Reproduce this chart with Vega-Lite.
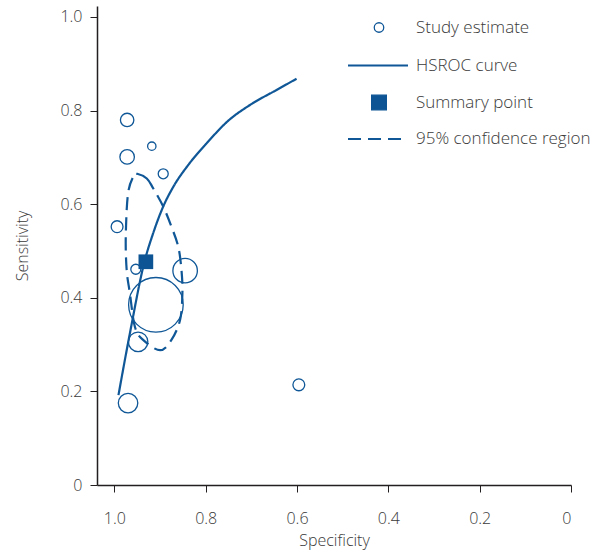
{
  "$schema": "https://vega.github.io/schema/vega-lite/v6.json",
  "width": 474,
  "height": 479,
  "autosize": {"type": "none"},
  "padding": {"left": 97, "top": 6, "right": 44, "bottom": 69},
  "background": "white",
  "config": {
    "view": {"stroke": null},
    "font": "Open Sans",
    "axis": {
      "grid": false,
      "domainColor": "#231f20",
      "domainWidth": 1.5,
      "tickColor": "#231f20",
      "tickWidth": 1,
      "tickSize": 7,
      "labelFont": "Open Sans",
      "labelFontSize": 16,
      "labelFontWeight": 300,
      "labelColor": "#3a3a3a",
      "titleFont": "Open Sans",
      "titleFontSize": 16,
      "titleFontWeight": 300,
      "titleColor": "#3a3a3a"
    },
    "legend": {
      "title": null,
      "orient": "none",
      "padding": 0,
      "labelFont": "Open Sans",
      "labelFontSize": 17,
      "labelFontWeight": 300,
      "labelColor": "#3a3a3a",
      "labelLimit": 400
    }
  },
  "datasets": {
    "studies": [
      {"spec": 0.972, "sens": 0.780, "n": 18, "series": "Study estimate"},
      {"spec": 0.972, "sens": 0.701, "n": 21, "series": "Study estimate"},
      {"spec": 0.918, "sens": 0.724, "n": 7, "series": "Study estimate"},
      {"spec": 0.893, "sens": 0.665, "n": 10, "series": "Study estimate"},
      {"spec": 0.994, "sens": 0.552, "n": 14, "series": "Study estimate"},
      {"spec": 0.953, "sens": 0.461, "n": 10, "series": "Study estimate"},
      {"spec": 0.845, "sens": 0.458, "n": 60, "series": "Study estimate"},
      {"spec": 0.909, "sens": 0.385, "n": 298, "series": "Study estimate"},
      {"spec": 0.948, "sens": 0.306, "n": 38, "series": "Study estimate"},
      {"spec": 0.970, "sens": 0.175, "n": 38, "series": "Study estimate"},
      {"spec": 0.596, "sens": 0.214, "n": 14, "series": "Study estimate"}
    ],
    "summary": [
      {"spec": 0.931, "sens": 0.477, "series": "Summary point"}
    ],
    "hsroc": [
      {"i": 1, "spec": 0.991, "sens": 0.192, "series": "HSROC curve"},
      {"i": 2, "spec": 0.966, "sens": 0.324, "series": "HSROC curve"},
      {"i": 3, "spec": 0.933, "sens": 0.481, "series": "HSROC curve"},
      {"i": 4, "spec": 0.915, "sens": 0.538, "series": "HSROC curve"},
      {"i": 5, "spec": 0.893, "sens": 0.595, "series": "HSROC curve"},
      {"i": 6, "spec": 0.871, "sens": 0.637, "series": "HSROC curve"},
      {"i": 7, "spec": 0.838, "sens": 0.684, "series": "HSROC curve"},
      {"i": 8, "spec": 0.798, "sens": 0.730, "series": "HSROC curve"},
      {"i": 9, "spec": 0.751, "sens": 0.778, "series": "HSROC curve"},
      {"i": 10, "spec": 0.703, "sens": 0.812, "series": "HSROC curve"},
      {"i": 11, "spec": 0.645, "sens": 0.844, "series": "HSROC curve"},
      {"i": 12, "spec": 0.601, "sens": 0.868, "series": "HSROC curve"}
    ],
    "region": [
      {"i": 1, "spec": 0.950, "sens": 0.665, "series": "95% confidence region"},
      {"i": 2, "spec": 0.929, "sens": 0.655, "series": "95% confidence region"},
      {"i": 3, "spec": 0.915, "sens": 0.634, "series": "95% confidence region"},
      {"i": 4, "spec": 0.893, "sens": 0.595, "series": "95% confidence region"},
      {"i": 5, "spec": 0.875, "sens": 0.552, "series": "95% confidence region"},
      {"i": 6, "spec": 0.860, "sens": 0.509, "series": "95% confidence region"},
      {"i": 7, "spec": 0.853, "sens": 0.459, "series": "95% confidence region"},
      {"i": 8, "spec": 0.851, "sens": 0.410, "series": "95% confidence region"},
      {"i": 9, "spec": 0.856, "sens": 0.353, "series": "95% confidence region"},
      {"i": 10, "spec": 0.875, "sens": 0.310, "series": "95% confidence region"},
      {"i": 11, "spec": 0.900, "sens": 0.288, "series": "95% confidence region"},
      {"i": 12, "spec": 0.937, "sens": 0.310, "series": "95% confidence region"},
      {"i": 13, "spec": 0.955, "sens": 0.338, "series": "95% confidence region"},
      {"i": 14, "spec": 0.966, "sens": 0.410, "series": "95% confidence region"},
      {"i": 15, "spec": 0.973, "sens": 0.459, "series": "95% confidence region"},
      {"i": 16, "spec": 0.975, "sens": 0.531, "series": "95% confidence region"},
      {"i": 17, "spec": 0.970, "sens": 0.623, "series": "95% confidence region"},
      {"i": 18, "spec": 0.957, "sens": 0.662, "series": "95% confidence region"}
    ]
  },
  "encoding": {
    "x": {
      "field": "spec", "type": "quantitative",
      "scale": {"domain": [0, 1.038], "reverse": true, "nice": false, "zero": false},
      "axis": {
        "title": "Specificity",
        "values": [0, 0.2, 0.4, 0.6, 0.8, 1.0],
        "labelExpr": "datum.value === 0 ? '0' : format(datum.value, '.1f')",
        "labelPadding": 18,
        "titlePadding": 6
      }
    },
    "y": {
      "field": "sens", "type": "quantitative",
      "scale": {"domain": [0, 1.0235], "nice": false, "zero": false},
      "axis": {
        "title": "Sensitivity",
        "values": [0, 0.2, 0.4, 0.6, 0.8, 1.0],
        "labelExpr": "datum.value === 0 ? '0' : format(datum.value, '.1f')",
        "labelPadding": 8,
        "titlePadding": 29
      }
    }
  },
  "layer": [
    {
      "data": {"name": "region"},
      "mark": {"type": "line", "interpolate": "cardinal-closed", "color": "#0f5797", "strokeWidth": 2.2},
      "encoding": {
        "order": {"field": "i", "type": "quantitative"},
        "strokeDash": {
          "field": "series", "type": "nominal",
          "scale": {"domain": ["HSROC curve", "95% confidence region"], "range": [[1, 0], [13, 7]]},
          "legend": {
            "legendX": 249.5, "legendY": 28,
            "symbolType": "stroke", "symbolSize": 3600, "symbolStrokeWidth": 2.2,
            "symbolStrokeColor": "#0f5797", "labelOffset": 6.5, "rowPadding": 33.5
          }
        }
      }
    },
    {
      "data": {"name": "hsroc"},
      "mark": {"type": "line", "interpolate": "monotone", "color": "#0f5797", "strokeWidth": 2.2},
      "encoding": {
        "order": {"field": "i", "type": "quantitative"},
        "strokeDash": {"field": "series", "type": "nominal"}
      }
    },
    {
      "data": {"name": "studies"},
      "mark": {"type": "point", "filled": false, "color": "#0f5797", "strokeWidth": 1.3, "opacity": 1},
      "encoding": {
        "size": {"field": "n", "type": "quantitative", "scale": {"domain": [0, 300], "range": [0, 3000], "zero": true}, "legend": null},
        "shape": {
          "field": "series", "type": "nominal",
          "scale": {
            "domain": ["Study estimate", "Summary point"],
            "range": ["circle", "M-1.55,-1.55H1.55V1.55H-1.55Z"]
          },
          "legend": {
            "legendX": 273.5, "legendY": 13,
            "symbolSize": 90, "symbolStrokeWidth": 1.3,
            "labelOffset": 28.5, "rowPadding": 56
          }
        },
        "fill": {
          "field": "series", "type": "nominal",
          "scale": {"domain": ["Study estimate", "Summary point"], "range": ["transparent", "#0d5494"]},
          "legend": {
            "legendX": 273.5, "legendY": 13,
            "symbolSize": 90, "symbolStrokeWidth": 1.3,
            "labelOffset": 28.5, "rowPadding": 56
          }
        },
        "stroke": {
          "field": "series", "type": "nominal",
          "scale": {"domain": ["Study estimate", "Summary point"], "range": ["#0f5797", "#0d5494"]},
          "legend": {
            "legendX": 273.5, "legendY": 13,
            "symbolSize": 90, "symbolStrokeWidth": 1.3,
            "labelOffset": 28.5, "rowPadding": 56
          }
        }
      }
    },
    {
      "data": {"name": "summary"},
      "mark": {"type": "point", "filled": true, "color": "#0d5494", "size": 90, "strokeWidth": 0, "opacity": 1},
      "encoding": {
        "shape": {"field": "series", "type": "nominal"},
        "fill": {"field": "series", "type": "nominal"},
        "stroke": {"field": "series", "type": "nominal"}
      }
    }
  ]
}
